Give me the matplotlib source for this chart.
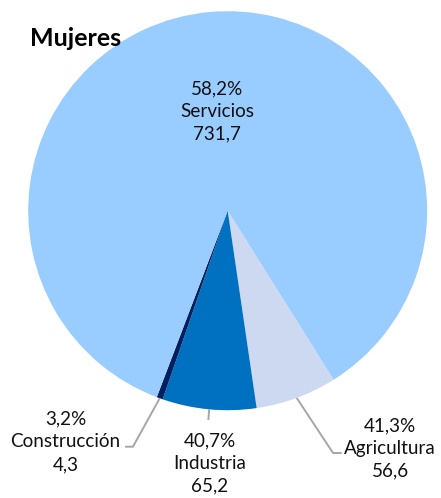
import numpy as np
import matplotlib
matplotlib.use("Agg")
import matplotlib.pyplot as plt

# Mujeres ocupadas por sector (miles) y % de mujeres en cada sector
sectores = ["Agricultura", "Industria", "Construcción", "Servicios"]
valores = [56.6, 65.2, 4.3, 731.7]
porcentajes = [41.3, 40.7, 3.2, 58.2]
colores = ["#CCD9F0", "#0070C0", "#002060", "#99CCFF"]

plt.rcParams["font.family"] = ["Lato", "DejaVu Sans"]

W, H = 441, 498
fig = plt.figure(figsize=(W / 100, H / 100), dpi=100)

# pie centre and radius in pixels
cx, cy, r = 227.7, 210.7, 199.5
ax = fig.add_axes([(cx - r) / W, (H - cy - r) / H, 2 * r / W, 2 * r / H])
ax.set_aspect("equal")
ax.axis("off")

wedges, _ = ax.pie(valores, colors=colores, startangle=-57.9, counterclock=False,
                   radius=1.0, center=(0, 0), frame=False,
                   wedgeprops=dict(linewidth=0))
ax.set_xlim(-1, 1)
ax.set_ylim(-1, 1)


def etiqueta(i):
    return f"{porcentajes[i]:.1f}%\n{sectores[i]}\n{valores[i]:.1f}".replace(".", ",")


# label block centres and leader line bends (axes data units)
posiciones = {
    "Agricultura": (0.815, -1.19),
    "Industria": (-0.089, -1.265),
    "Construcción": (-0.813, -1.159),
    "Servicios": (-0.054, 0.496),
}
guias = {
    "Agricultura": [(0.528, -1.2145), (0.571, -1.2145)],
    "Industria": [(-0.097, -1.049)],
    "Construcción": [(-0.475, -1.183), (-0.514, -1.183)],
}

for i, (w, nombre) in enumerate(zip(wedges, sectores)):
    x, y = posiciones[nombre]
    ax.text(x, y, etiqueta(i), ha="center", va="center", fontsize=13.6,
            linespacing=1.4, color="#111111", clip_on=False)
    if nombre in guias:
        ang = np.deg2rad((w.theta1 + w.theta2) / 2)
        pts = [(np.cos(ang), np.sin(ang))] + guias[nombre]
        xs, ys = zip(*pts)
        ax.plot(xs, ys, color="#A6A6A6", lw=1.4, clip_on=False,
                solid_capstyle="butt")

fig.text(30 / W, 1 - 38 / H, "Mujeres", ha="left", va="center",
         fontsize=18, fontweight="bold", color="#000000")

fig.savefig("out.png", dpi=100)
